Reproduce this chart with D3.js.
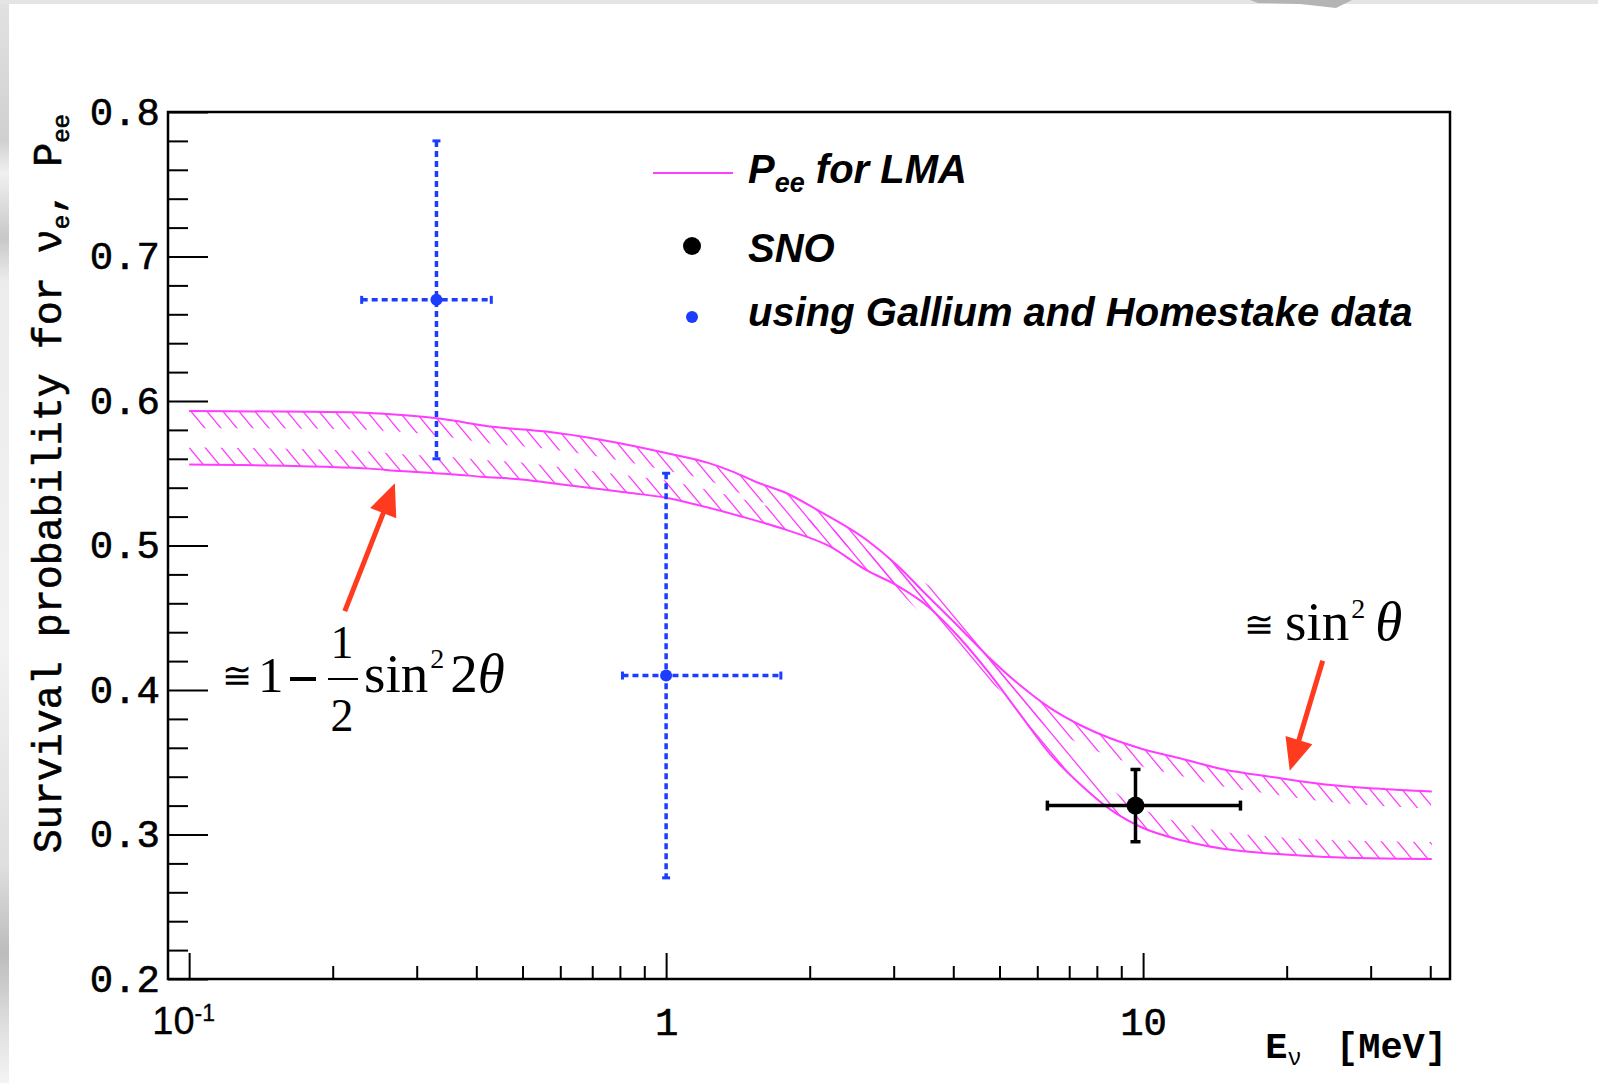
<!DOCTYPE html>
<html>
<head>
<meta charset="utf-8">
<script src="https://cdn.jsdelivr.net/npm/d3@7"></script>
<style>
  html, body { margin: 0; padding: 0; background: #fff; }
  svg { display: block; }
</style>
</head>
<body>
<svg id="chart" width="1598" height="1083"></svg>
<script>
// ---- LMA survival probability band: the two edge curves (E in MeV, Pee) ----
const upperE = [0.1, 0.177, 0.227, 0.288, 0.331, 0.438, 0.555, 0.734, 1.0, 1.23, 1.37, 1.56, 1.78, 2.06, 2.63, 3.05, 3.53, 4.10, 4.74, 5.50, 6.38, 7.39, 8.56, 9.92, 12.1, 14.7, 18.8, 24.1, 30.8, 40.3];
const upperP = [0.593, 0.5926, 0.592, 0.590, 0.588, 0.582, 0.579, 0.573, 0.564, 0.557, 0.5515, 0.5434, 0.5365, 0.5252, 0.504, 0.4864, 0.4652, 0.444, 0.4229, 0.4038, 0.3876, 0.3756, 0.3664, 0.3594, 0.3523, 0.3452, 0.3396, 0.3346, 0.3318, 0.3297];
const lowerE = [0.1, 0.193, 0.239, 0.278, 0.317, 0.360, 0.410, 0.498, 0.567, 0.688, 0.835, 1.0, 1.154, 1.43, 1.78, 2.20, 2.63, 3.05, 3.53, 4.10, 4.74, 5.50, 6.38, 7.39, 8.56, 9.92, 12.1, 14.7, 18.8, 24.1, 40.3];
const lowerP = [0.5561, 0.5545, 0.5532, 0.5515, 0.5504, 0.5492, 0.5476, 0.5457, 0.5434, 0.540, 0.5365, 0.533, 0.5284, 0.5203, 0.511, 0.4995, 0.4829, 0.4723, 0.4582, 0.437, 0.4123, 0.384, 0.3558, 0.3346, 0.317, 0.305, 0.2958, 0.2901, 0.2866, 0.2845, 0.2831];

// ---- Pee extracted from Gallium and Homestake data ----
const gaE    = [0.33, 1.0];
const gaELo  = [0.23, 0.81];
const gaEHi  = [0.43, 1.74];
const gaP    = [0.67, 0.41];
const gaPErr = [0.11, 0.14];

// ---- SNO ----
const snoE    = [9.64];
const snoELo  = [6.3];
const snoEHi  = [16.0];
const snoP    = [0.32];
const snoPErr = [0.025];

// ---- axes ----
const yMajorTicks = [0.2, 0.3, 0.4, 0.5, 0.6, 0.7, 0.8];
const yMinorTicks = d3.range(0.22, 0.8, 0.02).filter(v => Math.abs(v * 10 - Math.round(v * 10)) > 1e-6);
const xMajorTicks = [0.1, 1, 10];
const xMinorTicks = [0.2, 0.3, 0.4, 0.5, 0.6, 0.7, 0.8, 0.9, 2, 3, 4, 5, 6, 7, 8, 9, 20, 30, 40];

// ---- annotation anchors (data space) ----
const arrowLow  = { from: [0.212, 0.4546], to: [0.270, 0.543] };
const arrowHigh = { from: [23.8, 0.4203],  to: [20.3, 0.3441] };

const svg = d3.select("#chart");
const M = { left: 168, right: 1450, top: 112, bottom: 979 };

const x = d3.scaleLog().domain([0.0903, 44.0]).range([M.left, M.right]);
const y = d3.scaleLinear().domain([0.2, 0.8]).range([M.bottom, M.top]);

const MAGENTA = "#ff3cff";
const BLUE = "#1c3dff";
const RED = "#ff3b1f";
const MONO = "'Liberation Mono', 'DejaVu Sans Mono', monospace";
const SANS = "'Liberation Sans', Arial, Helvetica, sans-serif";
const SERIF = "'Liberation Serif', 'Times New Roman', serif";

// ---- page edge (slide background showing at the border) ----
const defs = svg.append("defs");
const edgeGrad = defs.append("linearGradient").attr("id", "edgeGrad")
  .attr("x1", 0).attr("y1", 0).attr("x2", 0).attr("y2", 1);
[[0, "#e2e2e2"], [0.13, "#d0d0d0"], [0.16, "#f0f0f0"], [0.22, "#c8c8c8"], [0.26, "#ececec"],
 [0.6, "#f2f2f2"], [0.8, "#dedede"], [0.88, "#bcbcbc"], [0.95, "#e0e0e0"], [1, "#f4f4f4"]]
  .forEach(([o, c]) => edgeGrad.append("stop").attr("offset", o).attr("stop-color", c));
svg.append("rect").attr("x", 0).attr("y", 0).attr("width", 9).attr("height", 1083).attr("fill", "url(#edgeGrad)");
svg.append("rect").attr("x", 0).attr("y", 0).attr("width", 1598).attr("height", 4).attr("fill", "#e4e4e4");
svg.append("path").attr("d", "M1250,0 L1352,0 L1336,8 L1300,4 L1258,3 Z").attr("fill", "#b4b4b4");

const plot = svg.append("g");

// ---- hatched band edges ----
const HATCH_W = 17;
const HATCH_STEP = 16;
const HATCH_SLOPE = 1.2;

function hatchedEdge(E, P, side, id) {
  const pts = E.map((e, i) => [x(e), y(P[i])]);
  const line = d3.line().curve(d3.curveMonotoneX);
  const edge = plot.append("path")
    .attr("d", line(pts))
    .attr("fill", "none")
    .attr("stroke", MAGENTA)
    .attr("stroke-width", 2);

  const node = edge.node();
  const L = node.getTotalLength();
  const samples = d3.range(0, L, 2).concat([L]).map(l => node.getPointAtLength(l));
  const n = samples.length;
  const offset = samples.map((p, i) => {
    const a = samples[Math.max(0, i - 2)], b = samples[Math.min(n - 1, i + 2)];
    let dx = b.x - a.x, dy = b.y - a.y;
    const len = Math.hypot(dx, dy) || 1;
    dx /= len; dy /= len;
    return [p.x - side * dy * HATCH_W, p.y + side * dx * HATCH_W];
  });
  const poly = samples.map(p => [p.x, p.y]).concat(offset.reverse());

  defs.append("clipPath").attr("id", id)
    .append("path").attr("d", "M" + poly.map(p => p.join(",")).join("L") + "Z");

  const H = M.bottom - M.top;
  const starts = d3.range(M.left - H / HATCH_SLOPE - HATCH_STEP, M.right + HATCH_STEP, HATCH_STEP);
  plot.insert("g", () => node)
    .attr("clip-path", `url(#${id})`)
    .selectAll("line").data(starts).join("line")
    .attr("x1", d => d).attr("y1", M.top)
    .attr("x2", d => d + H / HATCH_SLOPE).attr("y2", M.bottom)
    .attr("stroke", MAGENTA).attr("stroke-width", 1.3);
}
hatchedEdge(upperE, upperP, 1, "hatchUpper");   // hatched below the upper edge
hatchedEdge(lowerE, lowerP, -1, "hatchLower");  // hatched above the lower edge

// ---- Gallium / Homestake points (dotted error bars) ----
const ga = gaE.map((e, i) => ({ e, lo: gaELo[i], hi: gaEHi[i], p: gaP[i], dp: gaPErr[i] }));
const gaG = plot.append("g").attr("stroke", BLUE).attr("stroke-width", 3.5);
gaG.selectAll("line.h").data(ga).join("line").attr("class", "h")
  .attr("x1", d => x(d.lo)).attr("x2", d => x(d.hi))
  .attr("y1", d => y(d.p)).attr("y2", d => y(d.p))
  .attr("stroke-dasharray", "6 4");
gaG.selectAll("line.v").data(ga).join("line").attr("class", "v")
  .attr("x1", d => x(d.e)).attr("x2", d => x(d.e))
  .attr("y1", d => y(d.p + d.dp)).attr("y2", d => y(d.p - d.dp))
  .attr("stroke-dasharray", "6 4");
ga.forEach(d => {
  [[x(d.lo), y(d.p), 0], [x(d.hi), y(d.p), 0], [x(d.e), y(d.p + d.dp), 1], [x(d.e), y(d.p - d.dp), 1]]
    .forEach(([cx, cy, horiz]) => gaG.append("line")
      .attr("x1", horiz ? cx - 4 : cx).attr("x2", horiz ? cx + 4 : cx)
      .attr("y1", horiz ? cy : cy - 4).attr("y2", horiz ? cy : cy + 4)
      .attr("stroke-width", 3));
});
plot.append("g").selectAll("circle").data(ga).join("circle")
  .attr("cx", d => x(d.e)).attr("cy", d => y(d.p)).attr("r", 6).attr("fill", BLUE);

// ---- SNO point ----
const sno = snoE.map((e, i) => ({ e, lo: snoELo[i], hi: snoEHi[i], p: snoP[i], dp: snoPErr[i] }));
const snoG = plot.append("g").attr("stroke", "#000").attr("stroke-width", 3.5);
sno.forEach(d => {
  snoG.append("line").attr("x1", x(d.lo)).attr("x2", x(d.hi)).attr("y1", y(d.p)).attr("y2", y(d.p));
  snoG.append("line").attr("x1", x(d.e)).attr("x2", x(d.e)).attr("y1", y(d.p + d.dp)).attr("y2", y(d.p - d.dp));
  [[x(d.lo), y(d.p), 0], [x(d.hi), y(d.p), 0], [x(d.e), y(d.p + d.dp), 1], [x(d.e), y(d.p - d.dp), 1]]
    .forEach(([cx, cy, horiz]) => snoG.append("line")
      .attr("x1", horiz ? cx - 5 : cx).attr("x2", horiz ? cx + 5 : cx)
      .attr("y1", horiz ? cy : cy - 5).attr("y2", horiz ? cy : cy + 5));
});
plot.append("g").selectAll("circle").data(sno).join("circle")
  .attr("cx", d => x(d.e)).attr("cy", d => y(d.p)).attr("r", 9).attr("fill", "#000");

// ---- red arrows ----
function arrow(a) {
  const [x0, y0] = [x(a.from[0]), y(a.from[1])];
  const [x1, y1] = [x(a.to[0]), y(a.to[1])];
  const dx = x1 - x0, dy = y1 - y0, len = Math.hypot(dx, dy);
  const ux = dx / len, uy = dy / len, head = 32, half = 14;
  const bx = x1 - ux * head, by = y1 - uy * head;
  svg.append("line").attr("x1", x0).attr("y1", y0).attr("x2", bx + ux * 2).attr("y2", by + uy * 2)
    .attr("stroke", RED).attr("stroke-width", 5);
  svg.append("path")
    .attr("d", `M${x1},${y1}L${bx - uy * half},${by + ux * half}L${bx + uy * half},${by - ux * half}Z`)
    .attr("fill", RED);
}
arrow(arrowLow);
arrow(arrowHigh);

// ---- formulas ----
const f1 = svg.append("g").attr("font-family", SERIF).attr("fill", "#000");
f1.append("text").attr("x", 222).attr("y", 688).attr("font-size", 36).text("≅");
f1.append("text").attr("x", 258).attr("y", 692).attr("font-size", 51).text("1");
f1.append("rect").attr("x", 290).attr("y", 677).attr("width", 26).attr("height", 4);
f1.append("text").attr("x", 342).attr("y", 658).attr("font-size", 46).attr("text-anchor", "middle").text("1");
f1.append("rect").attr("x", 328).attr("y", 678).attr("width", 30).attr("height", 2);
f1.append("text").attr("x", 342).attr("y", 731).attr("font-size", 46).attr("text-anchor", "middle").text("2");
const t1 = f1.append("text").attr("x", 364).attr("y", 692).attr("font-size", 55);
t1.append("tspan").text("sin");
t1.append("tspan").attr("font-size", 28).attr("dy", -24).attr("dx", 2).text("2");
t1.append("tspan").attr("dy", 24).attr("dx", 6).text("2");
t1.append("tspan").attr("font-style", "italic").text("θ");

const f2 = svg.append("g").attr("font-family", SERIF).attr("fill", "#000");
f2.append("text").attr("x", 1244).attr("y", 637).attr("font-size", 36).text("≅");
const t2 = f2.append("text").attr("x", 1285).attr("y", 640).attr("font-size", 55);
t2.append("tspan").text("sin");
t2.append("tspan").attr("font-size", 28).attr("dy", -22).attr("dx", 2).text("2");
t2.append("tspan").attr("dy", 22).attr("dx", 10).attr("font-style", "italic").text("θ");

// ---- axes ----
const axes = svg.append("g").attr("font-family", MONO);

const yAxis = axes.append("g").attr("transform", `translate(${M.left},0)`)
  .call(d3.axisLeft(y).tickValues(yMajorTicks).tickSize(-40).tickPadding(8).tickFormat(d3.format(".1f")));
const yMinor = axes.append("g").attr("transform", `translate(${M.left},0)`)
  .call(d3.axisLeft(y).tickValues(yMinorTicks).tickSize(-20).tickFormat(""));
const xAxis = axes.append("g").attr("transform", `translate(0,${M.bottom})`)
  .call(d3.axisBottom(x).tickValues(xMajorTicks).tickSize(-26).tickPadding(28)
    .tickFormat(d => d === 0.1 ? "" : d3.format("d")(d)));
const xMinor = axes.append("g").attr("transform", `translate(0,${M.bottom})`)
  .call(d3.axisBottom(x).tickValues(xMinorTicks).tickSize(-13).tickFormat(""));

[yAxis, yMinor, xAxis, xMinor].forEach(g => {
  g.select(".domain").remove();
  g.selectAll(".tick line").attr("stroke", "#000").attr("stroke-width", 2);
  g.selectAll(".tick text").attr("font-family", MONO).attr("font-size", 39).attr("fill", "#000")
    .attr("stroke", "#000").attr("stroke-width", 0.6);
});

// 10^-1 label in TLatex style
xAxis.selectAll(".tick").filter(d => d === 0.1).select("text")
  .attr("font-family", SANS).attr("font-size", 38).attr("stroke-width", 0.3).attr("dx", -6)
  .call(t => {
    t.append("tspan").text("10");
    t.append("tspan").attr("font-size", 23).attr("dy", "-0.55em").text("-1");
  });

// frame
svg.append("rect").attr("x", M.left).attr("y", M.top)
  .attr("width", M.right - M.left).attr("height", M.bottom - M.top)
  .attr("fill", "none").attr("stroke", "#000").attr("stroke-width", 2.5);

// axis titles
const yTitle = svg.append("text")
  .attr("transform", `translate(61,${M.top + 2}) rotate(-90)`)
  .attr("text-anchor", "end").attr("font-family", MONO).attr("font-size", 40)
  .attr("fill", "#000").attr("stroke", "#000").attr("stroke-width", 0.6);
yTitle.append("tspan").text("Survival probability for ν");
yTitle.append("tspan").attr("font-size", 24).attr("dy", 8).text("e");
yTitle.append("tspan").attr("dy", -8).text(", P");
yTitle.append("tspan").attr("font-size", 24).attr("dy", 8).text("ee");

const xTitle = svg.append("text")
  .attr("x", M.right - 3).attr("y", 1058)
  .attr("text-anchor", "end").attr("font-family", MONO).attr("font-weight", "bold")
  .attr("font-size", 37).attr("fill", "#000");
xTitle.append("tspan").text("E");
xTitle.append("tspan").attr("font-size", 24).attr("font-weight", "normal").attr("dy", 7).text("ν");
xTitle.append("tspan").attr("dy", -7).attr("dx", 12).attr("xml:space", "preserve").text(" [MeV]");

// ---- legend ----
const lg = svg.append("g").attr("font-family", SANS).attr("font-weight", "bold")
  .attr("font-style", "italic").attr("font-size", 40).attr("fill", "#000");
lg.append("line").attr("x1", 653).attr("x2", 733).attr("y1", 173).attr("y2", 173)
  .attr("stroke", MAGENTA).attr("stroke-width", 2);
const l1 = lg.append("text").attr("x", 748).attr("y", 183);
l1.append("tspan").text("P");
l1.append("tspan").attr("font-size", 27).attr("dy", 9).text("ee");
l1.append("tspan").attr("dy", -9).text(" for LMA");
lg.append("circle").attr("cx", 692).attr("cy", 246).attr("r", 9).attr("fill", "#000");
lg.append("text").attr("x", 748).attr("y", 262).text("SNO");
lg.append("circle").attr("cx", 692).attr("cy", 317).attr("r", 6).attr("fill", BLUE);
lg.append("text").attr("x", 748).attr("y", 326).text("using Gallium and Homestake data");
</script>
</body>
</html>
